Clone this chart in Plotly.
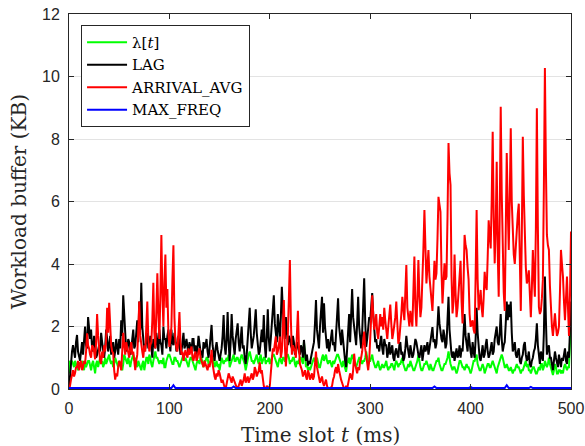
import plotly.graph_objects as go

# time slots in ms
t = list(range(0, 501))

lam = [
    0.5, 0.9, 0.85, 0.9, 0.8, 0.7, 0.9, 0.8, 0.7, 0.6, 0.8, 0.85, 0.7, 0.9, 0.8, 0.6, 0.9, 0.7, 0.8, 0.9,
    0.9, 0.7, 0.6, 0.8, 0.9, 0.7, 0.5, 0.8, 0.9, 0.7, 0.9, 1.0, 0.8, 0.9, 0.7, 0.8, 1.0, 0.8, 0.9, 1.0,
    1.1, 0.9, 0.8, 0.9, 0.7, 0.8, 1.0, 0.9, 0.8, 0.7, 0.9, 0.8, 0.7, 0.6, 0.8, 1.1, 1.0, 0.9, 0.8, 1.0,
    0.8, 0.7, 0.9, 1.0, 1.1, 0.9, 1.0, 0.8, 0.7, 0.9, 0.8, 0.7, 0.6, 0.8, 0.9, 0.6, 0.9, 1.0, 1.0, 0.8,
    1.1, 1.0, 0.8, 0.7, 0.9, 1.1, 1.2, 1.0, 1.0, 0.9, 0.8, 0.9, 0.9, 0.8, 1.0, 0.7, 0.7, 0.9, 1.0, 1.1,
    1.1, 1.0, 0.9, 0.8, 0.8, 1.0, 1.0, 0.9, 0.9, 0.8, 0.7, 0.8, 0.9, 1.0, 1.1, 0.9, 1.0, 0.9, 0.8, 0.7,
    0.9, 1.0, 1.0, 0.9, 0.8, 0.7, 0.6, 0.8, 0.9, 0.9, 0.8, 1.0, 1.0, 0.8, 0.7, 0.9, 0.9, 1.0, 1.0, 0.8,
    0.8, 0.9, 0.9, 1.0, 0.9, 0.7, 0.8, 0.9, 0.7, 0.8, 0.6, 0.8, 1.0, 0.9, 0.8, 0.9, 0.9, 1.0, 0.9, 1.1,
    0.7, 0.8, 0.9, 1.0, 1.1, 0.9, 0.9, 1.0, 1.0, 0.9, 0.8, 1.0, 1.1, 1.0, 0.9, 0.8, 0.6, 0.8, 1.0, 1.1,
    1.2, 1.0, 0.9, 0.9, 0.8, 0.9, 1.0, 1.1, 0.9, 0.8, 1.0, 1.1, 0.8, 0.9, 1.0, 1.0, 0.8, 0.9, 0.9, 1.0,
    0.8, 0.9, 1.0, 1.1, 1.1, 1.0, 0.9, 0.8, 0.7, 0.9, 1.0, 0.9, 0.8, 1.0, 1.0, 0.9, 0.9, 1.1, 1.1, 1.0,
    0.8, 0.9, 0.9, 1.0, 1.0, 0.8, 0.7, 0.9, 0.8, 0.9, 1.0, 1.0, 0.9, 0.8, 1.5, 1.0, 0.7, 0.8, 0.6, 0.7,
    0.6, 0.7, 0.8, 0.9, 1.0, 0.9, 0.9, 1.0, 0.8, 0.7, 0.7, 0.9, 1.0, 1.1, 0.9, 1.0, 1.1, 0.9, 0.8, 0.9,
    0.9, 0.8, 0.7, 0.9, 0.8, 0.9, 1.0, 1.1, 1.1, 1.0, 0.9, 0.8, 0.7, 0.9, 0.8, 0.7, 0.55, 0.8, 0.9, 1.0,
    0.8, 1.0, 1.1, 1.0, 0.9, 0.8, 0.7, 0.8, 0.9, 1.0, 1.0, 0.9, 0.8, 0.9, 0.9, 1.0, 1.2, 1.0, 0.8, 0.9,
    0.9, 1.0, 1.1, 0.9, 0.8, 0.7, 0.7, 0.8, 0.9, 0.7, 0.6, 0.7, 0.8, 0.7, 0.7, 0.8, 0.9, 0.7, 0.6, 0.7,
    0.7, 0.8, 0.8, 0.7, 0.6, 0.8, 0.9, 0.8, 0.7, 0.8, 0.8, 0.9, 1.0, 0.8, 0.7, 0.6, 0.6, 0.7, 0.8, 0.7,
    0.9, 0.8, 0.7, 0.6, 0.6, 0.7, 0.8, 0.9, 1.1, 0.8, 0.7, 0.6, 0.6, 0.7, 0.8, 0.8, 0.9, 0.8, 0.7, 0.6,
    0.8, 0.7, 0.6, 0.6, 0.7, 0.8, 0.9, 0.9, 1.0, 0.8, 0.7, 0.6, 0.6, 0.7, 0.8, 0.8, 0.9, 1.0, 1.2, 0.9,
    0.8, 0.7, 0.6, 0.7, 0.7, 0.6, 0.5, 0.6, 0.8, 0.9, 0.9, 0.8, 0.7, 0.7, 0.6, 0.7, 0.8, 0.7, 0.7, 0.6,
    0.5, 0.6, 0.8, 0.9, 0.9, 1.0, 1.1, 0.8, 0.7, 0.6, 0.6, 0.7, 0.8, 0.7, 0.5, 0.6, 0.7, 0.8, 0.8, 0.7,
    0.7, 0.8, 0.9, 0.8, 0.7, 0.6, 0.5, 0.7, 0.8, 0.9, 1.0, 1.1, 1.0, 0.8, 0.7, 0.7, 0.8, 0.7, 0.6, 0.6,
    0.7, 0.6, 0.5, 0.6, 0.6, 0.7, 0.8, 0.7, 0.7, 0.6, 0.5, 0.6, 0.6, 0.7, 0.8, 0.9, 0.7, 0.8, 0.6, 0.6,
    0.5, 0.6, 0.7, 0.7, 0.6, 0.5, 0.5, 0.6, 0.7, 0.6, 0.8, 0.8, 0.6, 0.7, 0.9, 0.8, 0.7, 0.8, 1.0, 0.8,
    0.7, 0.6, 0.45, 0.6, 0.8, 0.7, 0.5, 0.5, 0.6, 0.6, 0.5, 0.6, 0.5, 0.7, 0.8, 0.7, 0.6, 0.7, 0.7, 1.5,
    2.6,
]

lag = [
    0.0, 0.5, 0.9, 1.2, 1.4, 1.1, 1.0, 1.5, 1.73, 1.2, 1.0, 0.9, 1.2, 1.5, 1.1, 1.6, 2.0, 1.4, 1.3, 2.3,
    1.9, 1.6, 1.9, 1.3, 1.2, 1.7, 1.5, 1.0, 1.1, 1.3, 1.4, 1.2, 1.8, 1.5, 1.2, 1.0, 1.3, 1.9, 1.6, 1.2,
    1.4, 1.7, 1.1, 1.3, 1.5, 1.0, 1.2, 1.6, 1.3, 1.1, 1.6, 1.3, 2.2, 1.7, 3.0, 2.1, 1.8, 1.2, 1.3, 1.6,
    1.5, 1.1, 1.2, 1.6, 1.9, 1.3, 1.4, 1.8, 2.2, 1.5, 2.8, 1.9, 3.4, 2.0, 1.6, 1.2, 1.3, 1.5, 1.8, 1.3,
    1.4, 1.7, 1.2, 1.0, 1.6, 1.4, 1.3, 1.8, 1.5, 1.2, 1.9, 1.5, 1.4, 1.1, 2.0, 1.6, 1.6, 1.3, 1.7, 1.9,
    1.5, 1.2, 1.9, 1.5, 1.4, 1.8, 1.6, 1.2, 1.3, 1.7, 1.5, 1.1, 1.2, 1.5, 1.8, 1.3, 1.4, 1.6, 1.3, 1.1,
    1.5, 1.3, 1.2, 1.6, 1.6, 1.2, 1.4, 1.1, 1.3, 1.7, 1.5, 1.2, 1.2, 1.0, 1.5, 1.3, 1.4, 1.6, 1.2, 1.0,
    1.3, 1.6, 2.05, 1.4, 1.1, 0.9, 1.3, 1.5, 1.25, 1.0, 0.9, 1.1, 1.3, 1.7, 2.37, 1.4, 1.1, 1.6, 2.46, 1.5,
    0.9, 1.5, 2.4, 1.7, 1.3, 1.1, 1.6, 1.9, 2.1, 1.5, 1.2, 1.6, 2.0, 1.3, 1.4, 1.0, 0.8, 1.1, 1.5, 2.0,
    2.6, 1.8, 1.3, 1.5, 1.7, 2.1, 2.55, 1.8, 1.5, 1.1, 1.2, 1.6, 1.9, 1.5, 2.37, 1.4, 1.0, 1.7, 2.55, 1.6,
    1.2, 1.6, 2.2, 2.6, 3.0, 2.1, 1.8, 1.5, 2.4, 1.9, 1.6, 2.3, 3.27, 2.5, 2.0, 1.6, 2.3, 1.8, 1.4, 1.7,
    1.6, 1.4, 1.3, 1.7, 1.5, 1.1, 1.2, 1.5, 1.4, 1.2, 1.1, 1.4, 1.3, 1.0, 1.57, 1.2, 0.9, 1.1, 0.75, 0.9,
    0.8, 1.0, 1.2, 1.4, 1.5, 2.1, 2.85, 1.9, 1.6, 1.3, 2.0, 2.5, 2.95, 1.8, 2.74, 2.0, 1.7, 1.3, 1.6, 1.2,
    1.4, 1.7, 1.9, 1.4, 1.5, 1.2, 1.9, 2.3, 2.9, 2.0, 1.7, 1.4, 1.9, 1.5, 1.2, 0.9, 0.7, 1.2, 1.7, 2.4,
    1.5, 2.2, 3.2, 2.3, 1.9, 1.5, 1.4, 2.1, 2.95, 2.0, 1.6, 1.3, 1.8, 2.6, 3.54, 2.2, 1.35, 1.6, 1.9, 2.3,
    2.2, 2.7, 3.07, 2.4, 1.9, 1.5, 1.6, 1.3, 1.4, 1.2, 1.5, 1.7, 1.3, 1.1, 1.6, 1.4, 1.4, 1.0, 1.2, 1.5,
    1.1, 1.3, 1.4, 1.0, 0.9, 1.2, 1.3, 1.1, 1.0, 1.4, 1.5, 1.1, 1.2, 0.9, 1.0, 1.3, 1.7, 1.4, 1.2, 1.0,
    1.4, 1.2, 1.0, 1.1, 1.3, 1.6, 1.5, 1.2, 1.1, 1.0, 1.2, 1.4, 0.9, 1.1, 1.4, 1.2, 1.3, 1.5, 1.1, 1.3,
    1.5, 1.7, 1.98, 1.5, 1.6, 1.3, 1.45, 2.0, 2.65, 2.1, 1.8, 1.6, 1.5, 1.9, 1.7, 1.3, 1.45, 2.2, 2.95, 1.9,
    1.3, 1.1, 1.0, 1.2, 0.9, 1.1, 1.3, 1.0, 1.1, 1.4, 1.0, 1.3, 1.2, 1.8, 2.4, 1.7, 1.5, 1.2, 1.8, 1.4,
    1.2, 1.0, 1.5, 1.2, 1.0, 1.6, 2.6, 1.8, 1.3, 1.0, 0.9, 1.2, 1.4, 1.0, 1.1, 1.4, 1.6, 1.2, 1.0, 1.1,
    1.3, 1.5, 1.1, 1.2, 1.6, 1.9, 2.0, 1.5, 1.4, 1.8, 2.4, 1.6, 1.2, 1.4, 1.5, 2.1, 2.8, 2.2, 2.7, 2.3,
    2.8, 1.8, 1.2, 1.3, 1.5, 1.1, 1.0, 1.2, 1.3, 0.9, 0.8, 1.0, 1.1, 1.4, 1.5, 1.1, 0.9, 1.0, 1.2, 0.8,
    0.7, 0.9, 1.0, 1.2, 1.3, 1.6, 2.1, 1.4, 1.0, 0.8, 1.2, 1.0, 0.9, 1.8, 3.6, 2.2, 1.1, 1.3, 1.4, 1.0,
    1.0, 0.8, 0.6, 0.9, 1.2, 1.0, 0.8, 0.7, 1.1, 0.9, 0.7, 1.0, 0.9, 1.1, 1.3, 0.9, 0.8, 1.2, 1.0, 1.9,
    2.8,
]

arrival_avg = [
    0.0, 0.1, 0.3, 0.5, 0.6, 0.4, 0.5, 0.7, 0.7, 0.9, 0.6, 0.8, 0.9, 0.6, 0.7, 0.9, 0.8, 1.2, 1.78, 1.4,
    1.3, 1.1, 1.0, 1.4, 1.35, 1.2, 0.95, 1.5, 2.4, 1.7, 1.1, 0.9, 0.8, 1.2, 1.0, 1.4, 1.2, 1.6, 2.6, 1.8,
    2.76, 1.9, 1.4, 1.2, 1.15, 0.6, 0.3, 0.5, 0.4, 0.7, 0.9, 0.8, 0.6, 1.2, 1.8, 1.4, 1.1, 1.5, 1.3, 1.1,
    1.0, 1.3, 1.5, 1.1, 1.2, 0.9, 0.6, 0.9, 1.1, 1.9, 2.8, 1.7, 1.3, 1.2, 1.0, 1.4, 1.2, 1.9, 2.8, 1.6,
    1.2, 1.4, 1.5, 2.2, 3.4, 1.8, 1.3, 2.5, 3.7, 2.4, 1.6, 3.0, 4.93, 3.1, 2.0, 3.4, 4.3, 2.6, 3.2, 1.8,
    1.35, 1.6, 2.0, 3.5, 4.6, 2.3, 1.5, 1.3, 1.2, 1.8, 2.46, 1.5, 1.1, 1.2, 0.9, 1.1, 1.25, 1.1, 1.0, 1.3,
    1.1, 1.2, 1.36, 1.0, 0.9, 1.1, 1.2, 0.9, 1.0, 1.2, 1.3, 1.0, 0.9, 0.8, 0.7, 0.9, 0.8, 0.7, 0.6, 0.8,
    0.7, 0.9, 1.25, 0.8, 0.5, 0.4, 0.3, 0.5, 0.4, 0.6, 0.5, 0.3, 0.2, 0.3, 0.1, 0.05, 0.0, 0.2, 0.3, 0.5,
    0.4, 0.3, 0.2, 0.4, 0.3, 0.2, 0.1, 0.05, 0.0, 0.1, 0.2, 0.3, 0.1, 0.2, 0.3, 0.5, 0.2, 0.3, 0.4, 0.2,
    0.3, 0.4, 0.5, 0.3, 0.4, 0.7, 0.6, 0.4, 0.5, 0.6, 0.85, 0.5, 0.6, 0.3, 0.1, 0.0, 0.0, 0.1, 0.05, 0.0,
    0.1, 0.5, 1.0, 1.3, 1.2, 1.5, 1.68, 1.1, 1.2, 1.4, 1.68, 1.0, 1.2, 2.0, 2.85, 1.4, 0.72, 1.2, 1.78, 2.9,
    4.13, 2.2, 1.1, 1.4, 1.3, 1.2, 1.0, 1.6, 2.5, 1.4, 0.8, 0.7, 0.6, 0.4, 0.5, 0.6, 0.4, 0.3, 0.6, 0.5,
    0.3, 0.4, 0.5, 0.3, 0.4, 0.8, 1.2, 0.7, 0.5, 0.3, 0.2, 0.3, 0.4, 0.2, 0.1, 0.2, 0.3, 0.1, 0.0, 0.0,
    0.0, 0.05, 0.1, 0.3, 0.4, 0.6, 0.7, 0.5, 0.8, 0.6, 0.4, 0.3, 0.2, 0.1, 0.0, 0.0, 0.1, 0.0, 0.2, 0.3,
    0.5, 0.4, 0.3, 0.6, 1.13, 0.8, 0.6, 0.5, 0.7, 0.6, 0.9, 1.0, 1.2, 1.5, 1.84, 1.3, 1.1, 0.8, 0.6, 0.9,
    1.5, 2.2, 3.0, 2.4, 1.9, 2.1, 2.4, 1.8, 1.6, 2.0, 2.4, 2.0, 2.3, 1.9, 2.6, 2.2, 1.8, 1.6, 2.0, 2.3,
    2.7, 2.1, 1.6, 1.8, 2.0, 2.3, 2.8, 1.9, 1.45, 1.6, 1.9, 2.4, 2.95, 2.5, 2.2, 3.1, 3.97, 2.6, 2.2, 2.0,
    2.5, 2.2, 2.0, 3.1, 4.24, 2.6, 2.0, 2.9, 4.13, 3.0, 2.3, 2.6, 3.38, 4.5, 5.73, 4.0, 3.38, 3.9, 4.45, 3.6,
    3.17, 2.8, 2.5, 3.3, 4.1, 3.5, 3.7, 4.8, 6.15, 5.9, 5.67, 3.8, 2.74, 3.4, 4.02, 3.5, 3.6, 5.5, 7.87, 6.9,
    6.53, 3.6, 2.42, 2.8, 4.3, 3.1, 2.3, 2.6, 3.0, 3.5, 4.1, 2.8, 2.1, 3.4, 4.93, 4.6, 4.45, 3.9, 3.5, 2.4,
    1.99, 2.1, 2.2, 1.9, 1.78, 3.6, 5.73, 3.5, 2.52, 2.8, 3.17, 2.6, 2.3, 2.9, 3.75, 3.3, 3.17, 4.2, 5.4, 4.9,
    4.5, 6.0, 8.23, 5.5, 4.02, 5.2, 7.27, 4.4, 2.95, 5.6, 9.03, 6.3, 4.02, 3.1, 2.5, 4.6, 7.55, 5.8, 4.45, 6.1,
    8.34, 6.0, 4.98, 4.3, 4.0, 4.6, 5.3, 5.6, 5.93, 3.9, 2.5, 4.9, 8.07, 6.2, 4.55, 3.9, 3.38, 3.5, 3.8, 3.0,
    2.3, 3.2, 4.45, 3.6, 2.95, 5.1, 8.98, 5.2, 2.63, 2.4, 2.5, 2.9, 3.5, 6.5, 10.27, 7.1, 4.93, 4.6, 4.45, 3.3,
    2.5, 2.0, 1.7, 2.1, 2.42, 2.0, 1.7, 1.8, 2.0, 3.1, 4.45, 4.0, 3.6, 2.8, 2.2, 2.9, 3.6, 2.6, 1.7, 3.0,
    5.04,
]

# MAX_FREQ stays near zero, only a few small blips
freq_t = [0, 102, 104, 106, 162, 164, 166, 362, 364, 366, 398, 400, 402,
          434, 436, 438, 458, 460, 462, 500]
max_freq = [0.03, 0.03, 0.12, 0.03, 0.03, 0.08, 0.03, 0.03, 0.08, 0.03,
            0.03, 0.07, 0.03, 0.03, 0.12, 0.03, 0.03, 0.07, 0.03, 0.03]

serif = "DejaVu Serif"
sans = "Liberation Sans"
axis_col = "#262626"
lw = 2

fig = go.Figure()
fig.add_trace(go.Scatter(x=t, y=lam, mode="lines", name="λ[<i>t</i>]",
                         line=dict(color="#00ff00", width=lw)))
fig.add_trace(go.Scatter(x=t, y=lag, mode="lines", name="LAG",
                         line=dict(color="#000000", width=lw)))
fig.add_trace(go.Scatter(x=t, y=arrival_avg, mode="lines", name="ARRIVAL_AVG",
                         line=dict(color="#ff0000", width=lw)))
fig.add_trace(go.Scatter(x=freq_t, y=max_freq, mode="lines", name="MAX_FREQ",
                         line=dict(color="#0000ff", width=lw)))

fig.update_layout(
    width=585, height=446,
    margin=dict(l=69, r=14, t=14, b=57),
    paper_bgcolor="white", plot_bgcolor="white",
    showlegend=True,
    legend=dict(x=0.024, y=0.971, xanchor="left", yanchor="top",
                bgcolor="white", bordercolor=axis_col, borderwidth=1,
                font=dict(family=serif, size=15, color="black"),
                itemwidth=40, tracegroupgap=0),
    annotations=[
        dict(text="Time slot <i>t</i> (ms)", xref="paper", yref="paper",
             x=0.5, y=-0.123, xanchor="center", yanchor="middle",
             showarrow=False, font=dict(family=serif, size=20, color=axis_col)),
        dict(text="Workload buffer (KB)", xref="paper", yref="paper",
             x=-0.1, y=0.5, xanchor="center", yanchor="middle", textangle=-90,
             showarrow=False, font=dict(family=serif, size=20, color=axis_col)),
    ],
)

fig.update_xaxes(
    range=[0, 500], tickvals=[0, 100, 200, 300, 400, 500],
    ticks="inside", ticklen=5, tickcolor=axis_col, ticklabelstandoff=5,
    showline=True, linecolor=axis_col, linewidth=1, mirror="ticks",
    showgrid=False, zeroline=False, automargin=False,
    tickfont=dict(family=sans, size=16, color=axis_col),
)
fig.update_yaxes(
    range=[0, 12], tickvals=[0, 2, 4, 6, 8, 10, 12],
    ticks="inside", ticklen=5, tickcolor=axis_col, ticklabelstandoff=5,
    showline=True, linecolor=axis_col, linewidth=1, mirror="ticks",
    showgrid=True, gridcolor="#e3e3e3", gridwidth=1, zeroline=False,
    automargin=False,
    tickfont=dict(family=sans, size=16, color=axis_col),
)

# drop the browser's default 8px body margin so the figure sits at the corner
fig.write_html("out.html",
               config={"displayModeBar": False},
               post_script="document.body.style.margin='0';"
                           "document.body.style.overflow='hidden';")
